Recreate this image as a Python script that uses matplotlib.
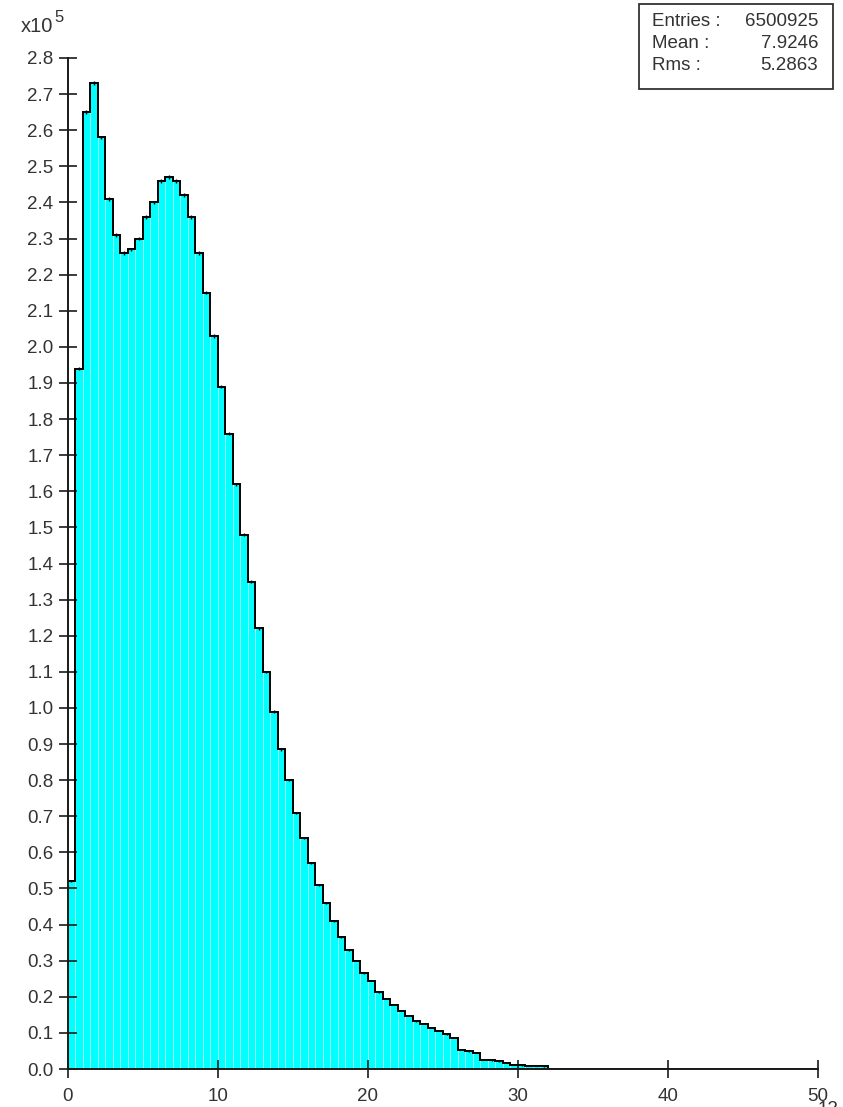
import matplotlib.pyplot as plt
import numpy as np

plt.rcParams['font.family'] = ['Liberation Sans', 'DejaVu Sans']

# histogram contents, units of 1e5 entries, bins of width 0.5 from 0 to 50
bin_width = 0.5
counts = np.array([
    0.52, 1.94, 2.65, 2.73, 2.58, 2.41, 2.31, 2.26, 2.27, 2.30,
    2.36, 2.40, 2.46, 2.47, 2.46, 2.42, 2.36, 2.26, 2.15, 2.03,
    1.89, 1.76, 1.62, 1.48, 1.35, 1.22, 1.10, 0.99, 0.885, 0.80,
    0.71, 0.64, 0.57, 0.51, 0.46, 0.41, 0.365, 0.33, 0.30, 0.265,
    0.245, 0.213, 0.195, 0.178, 0.161, 0.148, 0.132, 0.125, 0.114, 0.105,
    0.096, 0.087, 0.053, 0.049, 0.045, 0.025, 0.024, 0.021, 0.016, 0.011,
    0.010, 0.009, 0.008, 0.007, 0.001, 0.001, 0.001, 0.001, 0.001, 0.001,
    0.001, 0.001, 0.001, 0.001, 0.001, 0.001, 0.001, 0.001, 0.001, 0.001,
    0.001, 0.001, 0.001, 0.001, 0.001, 0.001, 0.001, 0.001, 0.001, 0.001,
    0.001, 0.001, 0.001, 0.001, 0.001, 0.001, 0.001, 0.001, 0.001, 0.001,
])
edges = np.arange(len(counts) + 1) * bin_width
centers = edges[:-1] + bin_width / 2
errors = np.sqrt(counts * 1e5) / 1e5

stat_names = ['Entries :', 'Mean :', 'Rms :']
stat_values = ['6500925', '7.9246', '5.2863']

W, H = 843, 1107
fig = plt.figure(figsize=(W / 100, H / 100), dpi=100)


def fx(px):
    return px / W


def fy(py):
    return 1 - py / H


ax = fig.add_axes([fx(67.5), fy(1069), fx(818) - fx(67.5), fy(58) - fy(1069)])

ax.bar(edges[:-1], counts, width=bin_width, align='edge', color='#00ffff',
       edgecolor='#a8ffff', linewidth=0.6, zorder=1)
ax.stairs(counts, edges, color='black', linewidth=1.4, baseline=0, zorder=2)
ax.errorbar(centers, counts, yerr=errors, fmt='none', ecolor='black',
            elinewidth=1.0, zorder=3)

ax.set_xlim(0, 50)
ax.set_ylim(0, 2.8)
ax.set_xticks(np.arange(0, 51, 10))
ax.set_yticks(np.arange(0, 2.81, 0.1))
ax.set_yticklabels(['%.1f' % v for v in np.arange(0, 2.81, 0.1)])

for s in ['top', 'right']:
    ax.spines[s].set_visible(False)
for s in ['left', 'bottom']:
    ax.spines[s].set_linewidth(1.4)
    ax.spines[s].set_color('#1a1a1a')
    ax.spines[s].set_zorder(4)

ax.tick_params(axis='both', direction='inout', length=13.5, width=1.2,
               colors='#1a1a1a', labelsize=13.5, labelcolor='#333333')
ax.tick_params(axis='y', pad=3.5)
ax.tick_params(axis='x', pad=7)

# exponent label
fig.text(fx(21), fy(32), 'x10', fontsize=14.5, color='#333333',
         ha='left', va='baseline')
fig.text(fx(54), fy(22), '5', fontsize=12, color='#333333',
         ha='left', va='baseline')

# stats box
box = plt.Rectangle((fx(639), fy(89)), fx(833) - fx(639), fy(4) - fy(89),
                    transform=fig.transFigure, fill=False,
                    edgecolor='#333333', linewidth=1.3)
fig.add_artist(box)
for i, (n, v) in enumerate(zip(stat_names, stat_values)):
    y = fy(22 + i * 21.5)
    fig.text(fx(652), y, n, fontsize=13.5, color='#333333',
             ha='left', va='center')
    fig.text(fx(818), y, v, fontsize=13.5, color='#333333',
             ha='right', va='center')

# clipped label at the bottom edge
fig.text(fx(818), fy(1101), '12', fontsize=13.5, color='#333333',
         ha='left', va='top')

fig.savefig('out.png', dpi=100)
